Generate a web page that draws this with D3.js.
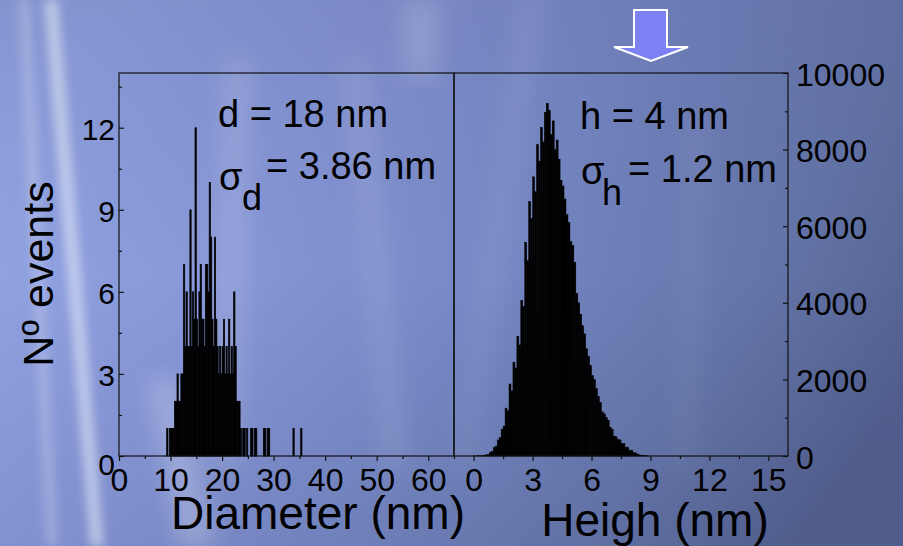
<!DOCTYPE html>
<html>
<head>
<meta charset="utf-8">
<script src="https://cdn.jsdelivr.net/npm/d3@7"></script>
<style>
  html, body { margin: 0; padding: 0; background: #7f90cc; }
  svg { display: block; }
  text { font-family: "Liberation Sans", Arial, sans-serif; fill: #000; }
</style>
</head>
<body>
<svg id="chart" width="903" height="546"></svg>
<script>
// ---- Diameter histogram (0.25 nm bins, starting at 9 nm) ----
const diamStart = 9.0;
const diamBin = 0.25;
const diamCounts = [
  0, 1, 0, 1, 1, 1, 1, 2, 2, 3, 2, 2,      // 9.00 – 11.75
  3, 3, 7, 4, 6, 4, 4, 9, 4, 6, 5, 12,     // 12.00 – 14.75
  5, 4, 6, 7, 5, 5, 4, 7, 7, 6, 10, 8,     // 15.00 – 17.75
  5, 4, 8, 5, 4, 3, 4, 3, 4, 5, 3, 4,      // 18.00 – 20.75
  3, 5, 3, 4, 3, 6, 4, 2, 2, 2, 1, 0,      // 21.00 – 23.75
  1, 1, 0, 1, 0, 0, 1, 1, 0, 1, 1, 0,      // 24.00 – 26.75
  0, 0, 0, 0, 1, 1, 0, 1, 1, 0, 0, 0,      // 27.00 – 29.75
  0, 0, 0, 0, 0, 0, 0, 0, 0, 0, 0, 0,      // 30.00 – 32.75
  0, 0, 0, 1, 0, 0, 0, 0, 0, 1             // 33.00 – 35.25
];

// ---- Height histogram (0.1 nm bins, starting at 0 nm) ----
const heightStart = 0.0;
const heightBin = 0.1;
const heightCounts = [
  5, 0, 10, 5, 15, 10, 30, 40, 90, 120,               // 0.0 – 0.9
  230, 260, 420, 480, 700, 780, 1250, 1180, 1880, 1700, // 1.0 – 1.9
  2450, 2300, 3120, 2900, 4060, 3900, 5580, 5100, 6640, 6200, // 2.0 – 2.9
  7290, 6900, 8130, 7700, 8580, 8200, 8970, 9210, 9030, 8400, // 3.0 – 3.9
  8750, 8000, 8250, 7750, 7200, 7050, 6710, 6300, 6100, 5600, // 4.0 – 4.9
  5500, 5060, 4250, 4000, 3700, 3400, 3190, 2800, 2600, 2365, // 5.0 – 5.9
  2100, 2000, 1760, 1550, 1400, 1150, 1100, 1000, 930, 750,   // 6.0 – 6.9
  700, 520, 500, 430, 420, 330, 320, 230, 220, 150,           // 7.0 – 7.9
  150, 90, 80, 50, 30, 20, 10, 10, 5, 0                       // 8.0 – 8.9
];

// ---- Axis ticks and labels ----
const diamTicks = [0, 10, 20, 30, 40, 50, 60];
const diamMinor = [5, 15, 25, 35, 45, 55, 65];
const heightTicks = [0, 3, 6, 9, 12, 15];
const heightMinor = [1.5, 4.5, 7.5, 10.5, 13.5];
const leftYTicks = [0, 3, 6, 9, 12];
const leftYMinor = [1.5, 4.5, 7.5, 10.5, 13.5];
const rightYTicks = [0, 2000, 4000, 6000, 8000, 10000];
const rightYMinor = [1000, 3000, 5000, 7000, 9000];

const diamTitle = "Diameter (nm)";
const heightTitle = "Heigh (nm)";
const yTitle = "Nº events";
const diamMean = "d = 18 nm";
const diamSigma = "= 3.86 nm";
const heightMean = "h = 4 nm";
const heightSigma = "= 1.2 nm";

const svg = d3.select("#chart");
const W = 903, H = 546;

// ---- Backdrop: bluish gradient with soft light streaks ----
const defs = svg.append("defs");
const bg = defs.append("linearGradient").attr("id", "bg")
  .attr("x1", "0").attr("y1", "0.3").attr("x2", "1").attr("y2", "0.7");
[["0%", "#93a5e4"], ["30%", "#8696d6"], ["55%", "#7587c3"], ["80%", "#6475a9"], ["100%", "#525f8e"]]
  .forEach(([o, c]) => bg.append("stop").attr("offset", o).attr("stop-color", c));
const shade = defs.append("linearGradient").attr("id", "shade")
  .attr("x1", "0").attr("y1", "0").attr("x2", "0").attr("y2", "1");
shade.append("stop").attr("offset", "0%").attr("stop-color", "#3c4570").attr("stop-opacity", 0.18);
shade.append("stop").attr("offset", "50%").attr("stop-color", "#3c4570").attr("stop-opacity", 0);
shade.append("stop").attr("offset", "100%").attr("stop-color", "#3c4570").attr("stop-opacity", 0.08);
defs.append("filter").attr("id", "soft").attr("x", "-50%").attr("y", "-10%").attr("width", "200%").attr("height", "120%")
  .append("feGaussianBlur").attr("stdDeviation", 5);
defs.append("filter").attr("id", "softer").attr("x", "-50%").attr("y", "-10%").attr("width", "200%").attr("height", "120%")
  .append("feGaussianBlur").attr("stdDeviation", 12);

svg.append("rect").attr("width", W).attr("height", H).attr("fill", "url(#bg)");
svg.append("rect").attr("width", W).attr("height", H).attr("fill", "url(#shade)");

const streaks = [
  { pts: [[44, 0], [58, 0], [104, 546], [90, 546]], op: 0.45, f: "soft" },
  { pts: [[18, 0], [30, 0], [58, 546], [46, 546]], op: 0.2, f: "soft" },
  { pts: [[150, 380], [175, 380], [215, 546], [180, 546]], op: 0.25, f: "softer" },
  { pts: [[225, 60], [250, 60], [238, 470], [212, 470]], op: 0.14, f: "softer" },
  { pts: [[345, 60], [365, 60], [405, 470], [385, 470]], op: 0.12, f: "softer" },
  { pts: [[402, 0], [440, 0], [436, 80], [405, 80]], op: 0.16, f: "softer" },
  { pts: [[520, 0], [545, 0], [470, 470], [455, 470]], op: 0.08, f: "softer" },
  { pts: [[690, 120], [705, 120], [690, 470], [678, 470]], op: 0.07, f: "softer" }
];
svg.append("g").selectAll("path").data(streaks).join("path")
  .attr("d", s => "M" + s.pts.map(p => p.join(",")).join("L") + "Z")
  .attr("fill", "#ffffff").attr("opacity", s => s.op)
  .attr("filter", s => `url(#${s.f})`);

// ---- Scales ----
const plotTop = 73, plotBottom = 456;
const xL = d3.scaleLinear().domain([0, 65]).range([119, 454]);
const yL = d3.scaleLinear().domain([0, 14]).range([plotBottom, plotTop]);
const xR = d3.scaleLinear().domain([-1, 16]).range([454, 788]);
const yR = d3.scaleLinear().domain([0, 10000]).range([plotBottom, plotTop]);

// ---- Bars ----
const diamData = diamCounts.map((c, i) => ({ x0: diamStart + i * diamBin, c }))
  .filter(d => d.c > 0);
svg.append("g").selectAll("rect").data(diamData).join("rect")
  .attr("x", d => xL(d.x0))
  .attr("width", d => xL(d.x0 + diamBin) - xL(d.x0))
  .attr("y", d => yL(d.c))
  .attr("height", d => yL(0) - yL(d.c))
  .attr("fill", "#000").attr("stroke", "#000").attr("stroke-width", 0.7);

const heightData = heightCounts.map((c, i) => ({ x0: heightStart + i * heightBin, c }))
  .filter(d => d.c > 0);
svg.append("g").selectAll("rect").data(heightData).join("rect")
  .attr("x", d => xR(d.x0))
  .attr("width", d => xR(d.x0 + heightBin) - xR(d.x0))
  .attr("y", d => yR(d.c))
  .attr("height", d => yR(0) - yR(d.c))
  .attr("fill", "#000").attr("stroke", "#000").attr("stroke-width", 0.5);

// ---- Frames ----
svg.append("rect").attr("x", xL.range()[0]).attr("y", plotTop)
  .attr("width", xL.range()[1] - xL.range()[0]).attr("height", plotBottom - plotTop)
  .attr("fill", "none").attr("stroke", "#111").attr("stroke-width", 1.2);
svg.append("rect").attr("x", xR.range()[0]).attr("y", plotTop)
  .attr("width", xR.range()[1] - xR.range()[0]).attr("height", plotBottom - plotTop)
  .attr("fill", "none").attr("stroke", "#111").attr("stroke-width", 1.2);

// ---- Axes ----
function styleAxis(g, size) {
  g.select(".domain").remove();
  g.selectAll(".tick line").attr("stroke", "#111").attr("stroke-width", 1.2);
  g.selectAll(".tick text").attr("font-family", "Liberation Sans, Arial, sans-serif")
    .attr("font-size", size).attr("fill", "#000");
}

// bottom, diameter
svg.append("g").attr("transform", `translate(0,${plotBottom})`)
  .call(d3.axisBottom(xL).tickValues(diamTicks).tickSize(5).tickPadding(7).tickFormat(d3.format("d")))
  .call(g => styleAxis(g, 32));
svg.append("g").attr("transform", `translate(0,${plotBottom})`)
  .call(d3.axisBottom(xL).tickValues(diamMinor).tickSize(3).tickFormat(""))
  .call(g => styleAxis(g, 0));

// bottom, height
svg.append("g").attr("transform", `translate(0,${plotBottom})`)
  .call(d3.axisBottom(xR).tickValues(heightTicks).tickSize(5).tickPadding(7).tickFormat(d3.format("d")))
  .call(g => styleAxis(g, 32));
svg.append("g").attr("transform", `translate(0,${plotBottom})`)
  .call(d3.axisBottom(xR).tickValues(heightMinor).tickSize(3).tickFormat(""))
  .call(g => styleAxis(g, 0));

// left, counts
svg.append("g").attr("transform", `translate(${xL.range()[0]},0)`)
  .call(d3.axisLeft(yL).tickValues(leftYTicks).tickSize(-5).tickPadding(4).tickFormat(d3.format("d")))
  .call(g => styleAxis(g, 30))
  .call(g => g.selectAll(".tick text").attr("dy", d => d === 0 ? "0.62em" : "0.4em"));
svg.append("g").attr("transform", `translate(${xL.range()[0]},0)`)
  .call(d3.axisLeft(yL).tickValues(leftYMinor).tickSize(-3).tickFormat(""))
  .call(g => styleAxis(g, 0));

// right, counts
svg.append("g").attr("transform", `translate(${xR.range()[1]},0)`)
  .call(d3.axisRight(yR).tickValues(rightYTicks).tickSize(-5).tickPadding(8).tickFormat(d3.format("d")))
  .call(g => styleAxis(g, 32))
  .call(g => g.selectAll(".tick text").attr("dy", "0.38em"));
svg.append("g").attr("transform", `translate(${xR.range()[1]},0)`)
  .call(d3.axisRight(yR).tickValues(rightYMinor).tickSize(-3).tickFormat(""))
  .call(g => styleAxis(g, 0));

// ---- Axis titles ----
svg.append("text").attr("x", 318).attr("y", 529).attr("text-anchor", "middle")
  .attr("font-size", 46).text(diamTitle);
svg.append("text").attr("x", 655).attr("y", 536).attr("text-anchor", "middle")
  .attr("font-size", 46).text(heightTitle);
svg.append("text").attr("transform", "translate(53,274) rotate(-90)").attr("text-anchor", "middle")
  .attr("font-size", 43).text(yTitle);

// ---- Statistics annotations ----
function sigmaLabel(x, ySig, sub, ySub, xSub, rest, xRest, yRest) {
  svg.append("text").attr("x", x).attr("y", ySig)
    .attr("font-family", "Liberation Serif, Times New Roman, serif").attr("font-size", 38).text("σ");
  svg.append("text").attr("x", xSub).attr("y", ySub).attr("font-size", 36).text(sub);
  svg.append("text").attr("x", xRest).attr("y", yRest).attr("font-size", 38).text(rest);
}
svg.append("text").attr("x", 218).attr("y", 127).attr("font-size", 38).text(diamMean);
sigmaLabel(219, 190, "d", 210, 242, diamSigma, 266, 179);

svg.append("text").attr("x", 580).attr("y", 129).attr("font-size", 38).text(heightMean);
sigmaLabel(581, 184, "h", 205, 602, heightSigma, 628, 182);

// ---- Marker arrow above the height panel ----
const arrowPts = [[634, 10], [667, 10], [667, 47], [688, 47], [651, 61], [614, 47], [634, 47]];
svg.append("path")
  .attr("d", d3.line()(arrowPts) + "Z")
  .attr("fill", "#7c82f4").attr("stroke", "#ffffff").attr("stroke-width", 2)
  .attr("stroke-linejoin", "miter");
</script>
</body>
</html>
